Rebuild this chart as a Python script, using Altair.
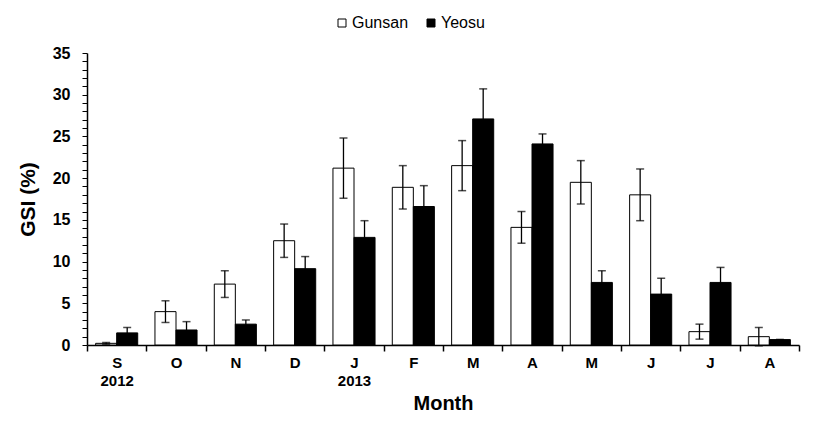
import json
import altair as alt
import pandas as pd

# ---- data ----
months = ["Sep", "Oct", "Nov", "Dec", "Jan", "Feb", "Mar", "Apr", "May", "Jun", "Jul", "Aug"]
month_labels = ["S", "O", "N", "D", "J", "F", "M", "A", "M", "J", "J", "A"]
year_labels = ["2012", "", "", "", "2013", "", "", "", "", "", "", ""]
sites = ["Gunsan", "Yeosu"]
gunsan = [0.2, 4.0, 7.3, 12.5, 21.2, 18.9, 21.5, 14.1, 19.5, 18.0, 1.6, 1.0]
gunsan_err = [0.1, 1.3, 1.6, 2.0, 3.6, 2.6, 3.0, 1.9, 2.6, 3.1, 0.9, 1.1]
yeosu = [1.45, 1.8, 2.5, 9.15, 12.9, 16.6, 27.1, 24.1, 7.5, 6.1, 7.5, 0.65]
yeosu_err = [0.65, 1.0, 0.5, 1.45, 2.0, 2.5, 3.6, 1.2, 1.4, 1.9, 1.8, 0.0]
y_ticks = list(range(0, 36))

rows = []
for i, m in enumerate(months):
    for site, vals, errs in (("Gunsan", gunsan, gunsan_err), ("Yeosu", yeosu, yeosu_err)):
        rows.append({"month": m, "site": site, "gsi": vals[i],
                     "lo": vals[i] - errs[i], "hi": vals[i] + errs[i]})
df = pd.DataFrame(rows)

# multi-line tick labels built from the label lists
parts = []
for m, ml, yl in zip(months, month_labels, year_labels):
    lab = [ml, yl] if yl else [ml]
    parts.append(f"datum.value == '{m}' ? {json.dumps(lab)}")
label_expr = " : ".join(parts) + " : ''"

FONT = "Liberation Sans"

xaxis = alt.Axis(title="Month", labelExpr=label_expr, labelAngle=0,
                 tickBand="extent", tickSize=6, tickWidth=1.5, tickColor="black",
                 domainColor="black", domainWidth=1.5,
                 labelFont=FONT, labelFontWeight="bold", labelFontSize=15,
                 labelColor="black", labelLineHeight=18, labelPadding=4,
                 titleFont=FONT, titleFontWeight="bold", titleFontSize=20,
                 titleColor="black", titlePadding=5)
yaxis = alt.Axis(title="GSI (%)", values=y_ticks,
                 labelExpr="datum.value % 5 == 0 ? format(datum.value, 'd') : ''",
                 labelOverlap=False, labelBound=False, labelFlush=False,
                 tickSize=5, tickWidth=1, tickColor="black",
                 domainColor="black", domainWidth=1.5, grid=False,
                 labelFont=FONT, labelFontWeight="bold", labelFontSize=16,
                 labelColor="black", labelPadding=12,
                 titleFont=FONT, titleFontWeight="bold", titleFontSize=21,
                 titleColor="black", titlePadding=14)

x = alt.X("month:N", sort=months, scale=alt.Scale(paddingInner=0, paddingOuter=0), axis=xaxis)
xo = alt.XOffset("site:N", sort=sites, scale=alt.Scale(paddingOuter=0.41, paddingInner=0))
yscale = alt.Scale(domain=[0, 35], nice=False, zero=True)

base = alt.Chart(df).encode(x=x, xOffset=xo)

bars = base.mark_bar(stroke="black", strokeWidth=1).encode(
    y=alt.Y("gsi:Q", scale=yscale, axis=yaxis),
    color=alt.Color("site:N", sort=sites,
                    scale=alt.Scale(domain=sites, range=["white", "black"]),
                    legend=alt.Legend(title=None, orient="none", direction="horizontal",
                                      legendX=247, legendY=-38, symbolType="square",
                                      symbolSize=64, symbolStrokeColor="black",
                                      symbolStrokeWidth=1, labelFont=FONT,
                                      labelFontSize=16, labelColor="black",
                                      labelOffset=2, columnPadding=14)),
)

err = base.mark_rule(color="black", strokeWidth=1.3).encode(
    y=alt.Y("lo:Q", scale=yscale, axis=yaxis), y2="hi:Q",
)
cap_hi = base.mark_tick(color="black", size=8, thickness=1.5, orient="horizontal").encode(
    y=alt.Y("hi:Q", scale=yscale, axis=yaxis),
)
cap_lo = base.mark_tick(color="black", size=8, thickness=1.5, orient="horizontal").encode(
    y=alt.Y("lo:Q", scale=yscale, axis=yaxis),
)

chart = alt.layer(bars, err, cap_hi, cap_lo).properties(
    width=712, height=292, background="white",
    padding={"left": 9, "top": 7, "right": 3, "bottom": 0},
).configure_view(strokeWidth=0)

chart.save("out.html", embed_options={"renderer": "svg", "actions": False})
